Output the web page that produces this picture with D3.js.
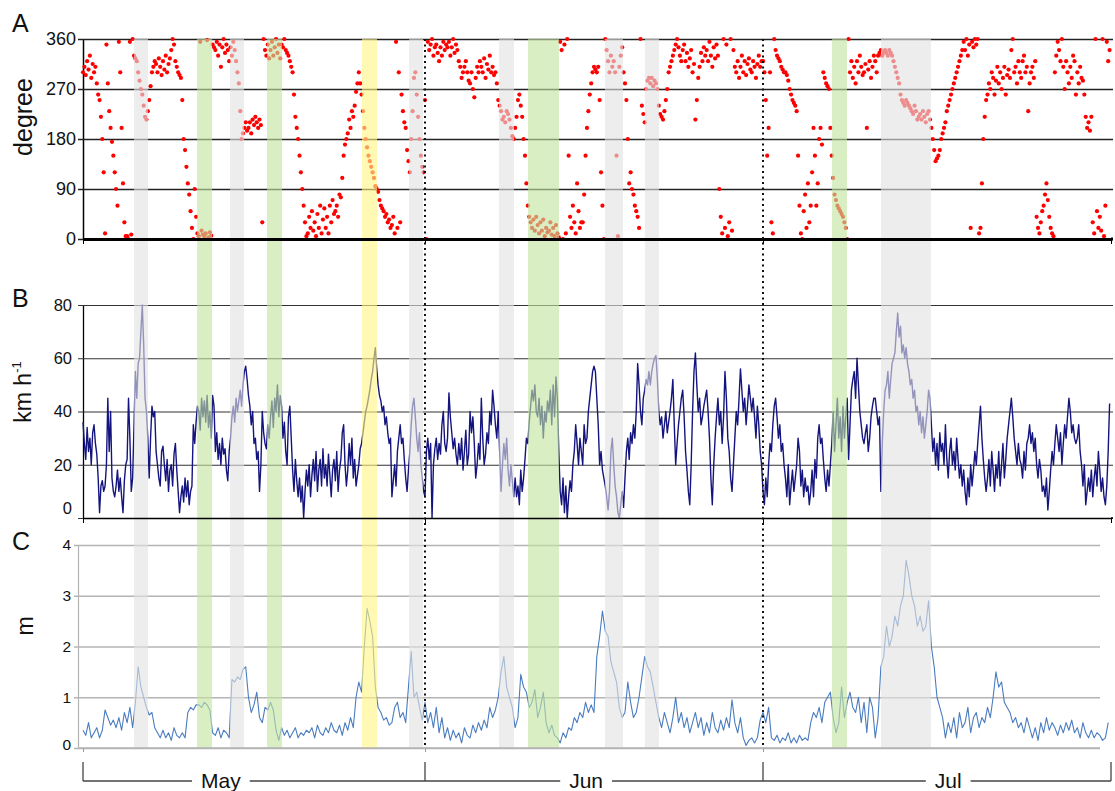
<!DOCTYPE html>
<html>
<head>
<meta charset="utf-8">
<script src="https://cdn.jsdelivr.net/npm/d3@7"></script>
<style>
  body { margin: 0; background: #fff; }
  svg { font-family: "Liberation Sans", Arial, sans-serif; }
</style>
</head>
<body>
<svg width="1115" height="791"></svg>
<script>
// ---- Dados
const monthStarts = ['2010-05-01', '2010-06-01', '2010-07-01', '2010-08-01'];
const monthNames = ['May', 'Jun', 'Jul'];
const monthLabelDay = [12.5, 45.3, 77.5];   // dia (desde 1 May) onde fica o nome do mes
const dottedDates = ['2010-06-01', '2010-07-01'];

const dirTicks = [0, 90, 180, 270, 360];
const speedTicks = [0, 20, 40, 60, 80];
const waveTicks = [0, 1, 2, 3, 4];

// eventos destacados: inicio/fim em dias desde 1 May
const bandStart = [4.62, 10.34, 13.33, 16.68, 25.29, 29.56, 37.57, 40.14, 46.97, 50.52, 67.14, 71.51];
const bandEnd   = [5.89, 11.70, 14.60, 18.04, 26.65, 30.82, 38.90, 42.89, 48.57, 51.77, 68.48, 75.96];
const bandKind  = ['gray', 'green', 'gray', 'green', 'yellow', 'gray', 'gray', 'green', 'gray', 'gray', 'green', 'gray'];

// direcao do vento (graus), de 3 em 3 horas
const windDir = [
  300,310,295,320,305,330,290,315, 300,310,280,260,250,220,180,120, 10,350,280,230,200,175,150,120,
  90,60,355,300,200,100,30,5, 5,0,355,8,360,330,325,320, 300,285,270,260,240,220,215,230,
  250,275,300,310,320,315,300,325, 310,295,320,305,330,300,315,325, 340,360,350,320,310,300,295,290,
  250,180,160,130,100,80,50,20, 0,90,40,10,5,355,15,8, 5,10,358,3,12,6,350,345,
  340,355,330,350,310,345,360,335, 350,340,320,345,330,355,340,320, 300,280,230,180,190,200,210,195,
  200,210,190,215,205,220,210,200, 215,205,30,360,340,330,350,325, 340,355,330,345,360,335,350,325,
  350,345,360,340,335,330,320,310, 300,260,220,200,180,150,120,90, 60,30,5,10,40,20,50,15,
  30,5,45,20,60,10,35,55, 20,40,10,60,30,70,45,50, 60,40,80,75,110,150,170,180,
  190,215,200,230,220,240,265,280, 300,280,260,230,200,180,165,150, 140,130,120,110,95,90,85,70,
  60,55,50,40,45,30,35,20, 25,40,10,355,20,300,30,260, 230,210,200,160,140,120,180,230,
  290,300,260,220,180,150,130,120, 250,0,355,340,350,360,330,345, 350,335,320,345,330,355,340,350,
  345,355,330,345,360,335,350,340, 320,310,290,300,310,320,300,285, 280,300,270,255,290,310,300,320,
  310,300,325,290,315,305,330,300, 310,295,300,280,250,240,230,215, 220,210,230,225,215,200,185,180,
  200,220,250,260,240,220,180,150, 100,60,40,30,20,35,15,40, 25,10,30,15,35,5,20,12,
  15,30,8,20,5,25,10,3, 355,340,0,350,10,360,150,40, 20,60,30,10,100,50,20,30,
  30,80,150,200,230,260,280,300, 310,305,300,310,250,120,60,0, 360,340,320,300,330,310,320,300,
  150,5,310,330,345,300,280,250, 180,100,120,90,80,60,50,40, 20,360,240,225,210,270,285,290,
  280,290,275,285,280,270,240,225, 220,215,230,250,270,300,310,320, 330,340,350,360,345,330,320,340,
  350,320,335,310,325,340,300,315, 215,250,290,310,335,320,345,330, 340,320,355,330,310,345,325,350,
  330,90,40,10,360,20,350,5, 30,360,15,340,310,300,320,290, 310,330,300,320,295,315,325,305,
  300,320,310,290,315,330,310,320, 320,300,250,150,200,300,30,10, 360,340,330,325,320,310,305,300,
  300,295,285,270,260,250,245,240, 230,150,60,10,0,50,80,20, 100,30,60,120,200,150,60,100,
  180,200,170,300,290,280,275,270, 200,150,110,80,70,60,55,50, 45,40,30,20,0,360,300,320,
  290,310,280,320,300,330,310,295, 300,315,200,305,320,290,310,330, 320,300,330,335,340,330,335,340,
  335,330,340,335,330,320,310,300, 290,280,260,250,245,240,250,245, 240,235,230,225,240,230,215,220,
  225,215,230,220,210,225,230,215, 200,180,160,140,145,150,160,180, 190,200,210,230,240,250,260,270,
  280,290,300,310,320,330,340,355, 340,360,330,350,20,355,345,360, 350,360,10,20,100,180,220,250,
  260,280,270,300,290,260,285,310, 280,300,270,290,310,260,295,305, 290,340,360,300,310,280,320,300,
  290,320,330,300,310,230,280,300, 310,290,320,40,20,10,30,50, 60,80,100,70,40,20,10,5,
  300,330,355,340,320,360,310,270, 320,300,280,310,290,330,320,260, 300,280,310,290,285,260,220,200,
  210,195,220,30,10,360,50,20, 40,15,360,5,60,355,320,340
];

// velocidade do vento (km/h), de 3 em 3 horas
const windSpeed = [
  36,28,22,34,25,30,20,32, 35,28,24,15,2,12,14,10, 12,20,45,25,40,15,10,8,
  12,18,10,15,8,2,14,20, 22,45,30,10,15,35,55,45, 58,60,70,80,65,45,40,30,
  15,30,42,38,40,25,20,15, 12,25,27,20,14,22,10,18, 20,12,24,28,18,10,2,8,
  12,6,15,8,14,5,10,12, 35,28,36,42,40,33,45,38, 44,36,46,34,40,30,46,42,
  25,32,22,28,20,30,24,26, 18,14,25,30,38,42,36,45, 40,44,48,42,50,55,57,52,
  46,42,35,40,28,30,22,25, 10,20,40,32,28,26,35,30, 38,44,34,45,40,50,38,46,
  42,30,36,25,20,38,42,30, 18,10,22,14,8,15,6,12, 0,10,18,12,20,8,16,22,
  14,25,10,18,22,12,26,15, 20,12,24,16,8,18,22,14, 25,10,18,22,32,35,20,12,
  18,28,20,30,15,22,12,16, 20,26,28,32,36,40,42,45, 48,52,55,60,64,56,50,46,
  44,40,42,35,38,32,28,30, 8,14,20,12,25,30,35,28, 30,22,15,10,18,25,35,42,
  45,38,30,25,32,20,15,10, 8,25,30,22,28,0,20,26, 30,22,28,24,35,40,28,25,
  30,47,38,32,26,30,24,20, 28,22,30,18,25,33,20,24, 40,32,38,28,15,20,28,22,
  45,30,20,24,32,28,40,35, 48,42,35,30,40,25,10,20, 28,22,30,18,12,20,14,8,
  15,8,12,5,18,10,15,22, 30,28,36,42,48,44,50,40, 38,45,35,42,30,40,36,44,
  40,48,35,50,38,53,45,25, 10,5,15,2,12,0,8,14, 10,20,25,35,28,20,30,25,
  20,35,28,30,40,45,50,55, 57,55,45,35,20,25,18,15, 12,8,3,10,25,30,20,12,
  8,2,0,5,10,4,15,25, 30,22,32,28,35,30,40,58, 50,40,35,45,48,52,50,55,
  50,55,58,60,61,52,40,35, 38,30,35,40,32,36,40,45, 52,35,20,28,35,40,45,48,
  38,25,18,10,5,20,40,55, 62,50,40,45,35,38,42,45, 48,40,30,15,5,20,30,38,
  45,35,40,28,38,55,45,30, 25,15,10,20,30,40,35,45, 56,48,40,45,35,42,50,45,
  40,45,38,30,42,35,25,20, 10,5,15,8,20,28,25,35, 42,45,38,30,35,25,28,20,
  15,8,20,5,12,18,10,15, 20,30,25,12,18,8,15,10, 12,5,10,18,8,22,15,30,
  35,28,30,22,15,10,18,12, 20,28,40,25,35,45,30,38, 25,42,30,38,45,22,35,48,
  52,55,45,60,50,40,35,30, 28,32,35,25,30,38,42,45, 45,40,35,38,10,28,40,48,
  50,55,45,52,58,60,62,70, 77,68,72,62,65,60,64,58, 55,50,52,45,48,40,42,35,
  40,32,38,30,35,40,48,45, 35,25,30,20,28,18,32,25, 28,20,35,22,15,25,30,20,
  25,18,30,22,15,20,12,18, 10,5,15,8,20,12,18,25, 20,28,35,42,30,22,15,10,
  15,22,12,25,18,10,20,15, 25,12,20,28,15,22,30,35, 40,45,38,30,25,20,28,22,
  20,15,25,18,28,30,35,28, 32,25,30,20,15,22,18,10, 12,8,15,3,10,18,25,20,
  28,35,30,25,32,20,28,35, 30,38,45,40,32,35,30,28, 30,35,25,20,12,20,5,10,
  15,10,18,8,15,20,12,25, 18,10,15,8,5,12,25,43
];

// altura de onda (m), de 6 em 6 horas
const waveHeight = [
  0.35,0.25,0.5,0.2, 0.3,0.4,0.2,0.35, 0.75,0.6,0.45,0.55, 0.4,0.6,0.35,0.7, 0.5,0.8,0.4,0.9,
  1.6,1.2,1.0,0.8, 0.65,0.7,0.4,0.3, 0.2,0.35,0.2,0.3, 0.15,0.4,0.25,0.2, 0.3,0.2,0.7,0.8,
  0.75,0.85,0.85,0.8, 0.9,0.85,0.75,0.3, 0.25,0.4,0.2,0.35, 0.3,0.2,1.35,1.3, 1.4,1.35,1.55,1.6,
  1.0,0.7,0.85,1.1, 0.6,0.5,0.8,0.75, 0.9,0.75,0.35,0.15, 0.4,0.25,0.35,0.2, 0.3,0.4,0.2,0.3,
  0.25,0.35,0.3,0.4, 0.2,0.45,0.3,0.25, 0.4,0.3,0.5,0.35, 0.3,0.45,0.25,0.5, 0.35,0.6,0.4,1.0,
  1.3,1.1,2.0,2.75, 2.5,2.2,1.2,0.8, 0.7,0.55,0.6,0.45, 0.5,0.8,0.9,0.6, 0.7,0.5,1.2,1.9,
  1.0,1.1,0.8,0.55, 0.9,0.5,0.7,0.4, 0.8,0.3,0.6,0.2, 0.4,0.15,0.35,0.2, 0.3,0.1,0.4,0.25,
  0.2,0.45,0.3,0.5, 0.35,0.55,0.4,0.8, 0.6,0.75,1.0,1.5, 1.8,1.2,1.0,0.8, 0.4,0.6,1.45,1.2,
  1.1,0.8,0.9,1.15, 0.6,0.8,1.1,0.5, 0.3,0.45,0.25,0.2, 0.1,0.3,0.2,0.4, 0.35,0.6,0.5,0.7,
  0.6,0.9,0.7,0.85, 0.7,1.8,2.2,2.7, 2.3,2.2,1.7,1.5, 1.3,0.8,0.6,0.7, 1.3,0.9,0.6,0.7,
  1.0,1.4,1.8,1.6, 1.5,1.2,0.9,0.6, 0.4,0.7,0.5,0.3, 0.6,1.0,0.5,0.7, 0.4,0.6,0.3,0.5,
  0.7,0.4,0.6,0.25, 0.5,0.3,0.7,0.4, 0.3,0.55,0.35,0.6, 0.4,0.95,0.5,0.3, 0.6,0.2,0.05,0.15,
  0.2,0.1,0.2,0.55, 0.7,0.5,0.8,0.2, 0.15,0.25,0.1,0.2, 0.15,0.3,0.1,0.2, 0.1,0.25,0.15,0.2,
  0.15,0.5,0.7,0.6, 0.8,0.5,0.9,1.0, 1.1,0.6,0.3,0.5, 1.2,0.6,0.9,1.1, 0.8,0.7,1.0,0.5,
  0.9,0.3,1.0,0.8, 0.2,0.6,1.6,1.8, 2.4,2.0,2.2,2.6, 2.4,2.8,3.0,3.7, 3.4,3.0,2.8,2.4,
  2.6,2.3,2.4,2.9, 2.0,1.6,1.0,0.8, 0.6,0.2,0.5,0.3, 0.6,0.2,0.7,0.4, 0.5,0.8,0.3,0.6,
  0.7,0.4,0.6,0.5, 0.8,0.6,1.0,1.5, 1.2,1.3,0.9,0.8, 0.7,0.5,0.6,0.4, 0.5,0.3,0.6,0.4,
  0.2,0.4,0.15,0.5, 0.3,0.6,0.35,0.5, 0.4,0.25,0.45,0.3, 0.5,0.35,0.55,0.3, 0.4,0.2,0.5,0.3,
  0.2,0.35,0.2,0.3, 0.25,0.15,0.2,0.5
];

const bandColors = { gray: '#e2e2e2', green: '#c4e3a0', yellow: '#fff585' };

// ---- Escalas
const parseDate = d3.timeParse('%Y-%m-%d');
const startDate = parseDate(monthStarts[0]);
const dayToDate = d => new Date(startDate.getTime() + d * 864e5);
const t3 = i => d3.timeHour.offset(startDate, i * 3);
const t6 = i => d3.timeHour.offset(startDate, i * 6);

const svg = d3.select('svg');

const mapX = d3.scaleTime()
    .domain(monthStarts.map(parseDate))
    .range([83, 425, 763, 1111]);

const mapA = d3.scaleLinear().domain([0, 360]).range([239, 39]);
const mapB = d3.scaleLinear().domain([0, 80]).range([518, 305]);
const mapC = d3.scaleLinear().domain([0, 4]).range([748, 545]);

const leftAB = 83, rightAB = 1113;
const leftC = 78, rightC = 1100;

// ---- Grades e eixos Y (com pequeno traco para fora)
const gridA = svg.append('g')
    .attr('transform', `translate(${leftAB},0)`)
    .call(d3.axisLeft(mapA).tickValues(dirTicks).tickSizeInner(-(rightAB - leftAB)).tickSizeOuter(0).tickPadding(7));
gridA.selectAll('.tick line').attr('x1', -5).attr('stroke', '#222').attr('stroke-width', 1.5);
gridA.select('.domain').attr('stroke', '#000').attr('stroke-width', 1.5);
gridA.selectAll('.tick text').attr('font-size', 18).attr('fill', '#111');

const gridB = svg.append('g')
    .attr('transform', `translate(${leftAB},0)`)
    .call(d3.axisLeft(mapB).tickValues(speedTicks).tickSizeInner(-(rightAB - leftAB)).tickSizeOuter(0).tickPadding(11));
gridB.selectAll('.tick line').attr('x1', -5).attr('stroke', '#333').attr('stroke-width', 1.1);
gridB.select('.domain').attr('stroke', '#000').attr('stroke-width', 1.3);
gridB.selectAll('.tick text').attr('font-size', 16.5).attr('fill', '#111');
gridB.selectAll('.tick').filter(d => d === 0).select('text').attr('dy', '-0.25em');

const gridC = svg.append('g')
    .attr('transform', `translate(${leftC},0)`)
    .call(d3.axisLeft(mapC).tickValues(waveTicks).tickFormat(d3.format('d'))
        .tickSizeInner(-(rightC - leftC)).tickSizeOuter(0).tickPadding(7));
gridC.selectAll('.tick line').attr('x1', -4).attr('stroke', '#b4b4b4').attr('stroke-width', 1.4);
gridC.select('.domain').attr('stroke', '#b4b4b4').attr('stroke-width', 1.2);
gridC.selectAll('.tick text').attr('font-size', 15.5).attr('fill', '#111');
gridC.selectAll('.tick').filter(d => d === 0).select('text').attr('dy', '0.1em');

// ---- Dados
svg.append('g')
    .selectAll('circle')
    .data(windDir)
    .join('circle')
    .attr('cx', (d, i) => mapX(t3(i)))
    .attr('cy', d => mapA(d))
    .attr('r', 2.1)
    .attr('fill', '#ff0000');

const speedLine = d3.line()
    .x((d, i) => mapX(t3(i)))
    .y(d => mapB(d));

svg.append('path')
    .datum(windSpeed)
    .attr('d', speedLine)
    .attr('fill', 'none')
    .attr('stroke', '#14147e')
    .attr('stroke-width', 1.4)
    .attr('stroke-linejoin', 'round');

const waveLine = d3.line()
    .x((d, i) => mapX(t6(i)))
    .y(d => mapC(d));

svg.append('path')
    .datum(waveHeight)
    .attr('d', waveLine)
    .attr('fill', 'none')
    .attr('stroke', '#4a7cc0')
    .attr('stroke-width', 1.1)
    .attr('stroke-linejoin', 'round');

// ---- Faixas de eventos (por cima, semi-transparentes)
svg.append('g')
    .selectAll('rect')
    .data(bandStart)
    .join('rect')
    .attr('x', d => mapX(dayToDate(d)))
    .attr('width', (d, i) => mapX(dayToDate(bandEnd[i])) - mapX(dayToDate(d)))
    .attr('y', 39)
    .attr('height', 748 - 39)
    .attr('fill', (d, i) => bandColors[bandKind[i]])
    .attr('fill-opacity', 0.62);

// ---- Eixos X
const monthDates = monthStarts.map(parseDate);

const axisA = svg.append('g')
    .attr('transform', 'translate(0,239)')
    .call(d3.axisBottom(mapX).tickValues(monthDates).tickSize(5).tickSizeOuter(0).tickFormat(''));
axisA.select('.domain').attr('stroke', '#000').attr('stroke-width', 3);
axisA.append('line').attr('x1', 1111).attr('x2', rightAB).attr('stroke', '#000').attr('stroke-width', 3);

const axisB = svg.append('g')
    .attr('transform', 'translate(0,518)')
    .call(d3.axisBottom(mapX).tickValues(monthDates).tickSize(5).tickSizeOuter(0).tickFormat(''));
axisB.select('.domain').attr('stroke', '#000').attr('stroke-width', 1.6);
axisB.append('line').attr('x1', 1111).attr('x2', rightAB).attr('stroke', '#000').attr('stroke-width', 1.6);

const axisC = svg.append('g')
    .attr('transform', 'translate(0,748)')
    .call(d3.axisBottom(mapX).tickValues(monthDates.slice(0, 3)).tickSize(4).tickSizeOuter(0).tickFormat(''));
axisC.select('.domain').remove();
axisC.selectAll('.tick line').attr('stroke', '#999');
axisC.append('line').attr('x1', leftC).attr('x2', rightC).attr('stroke', '#b4b4b4').attr('stroke-width', 1.4);

// ---- Linhas pontilhadas (inicio de mes)
svg.append('g')
    .selectAll('line')
    .data(dottedDates.map(parseDate))
    .join('line')
    .attr('x1', d => mapX(d))
    .attr('x2', d => mapX(d))
    .attr('y1', 39)
    .attr('y2', 745)
    .attr('stroke', '#111')
    .attr('stroke-width', 2)
    .attr('stroke-dasharray', '2,3.5');

// ---- Rotulos
svg.append('g')
    .selectAll('text')
    .data([['A', 32], ['B', 307], ['C', 550]])
    .join('text')
    .attr('x', 12)
    .attr('y', d => d[1])
    .attr('font-size', 25)
    .attr('fill', '#111')
    .text(d => d[0]);

svg.append('text')
    .attr('transform', 'translate(32,117) rotate(-90)')
    .attr('text-anchor', 'middle')
    .attr('font-size', 25)
    .attr('fill', '#111')
    .text('degree');

const kmh = svg.append('text')
    .attr('transform', 'translate(31,392) rotate(-90)')
    .attr('text-anchor', 'middle')
    .attr('font-size', 23)
    .attr('fill', '#111');
kmh.append('tspan').text('km h');
kmh.append('tspan').attr('font-size', 13).attr('dy', -10).text('-1');

svg.append('text')
    .attr('transform', 'translate(33,626) rotate(-90)')
    .attr('text-anchor', 'middle')
    .attr('font-size', 23)
    .attr('fill', '#111')
    .text('m');

// ---- Eixo de meses (colchetes)
const bracketY = 781, bracketTop = 762;
const bracket = svg.append('g').attr('stroke', '#444').attr('stroke-width', 1.3);

bracket.selectAll('line.tick')
    .data(monthDates)
    .join('line')
    .attr('class', 'tick')
    .attr('x1', d => mapX(d))
    .attr('x2', d => mapX(d))
    .attr('y1', bracketTop)
    .attr('y2', bracketY);

const labels = svg.append('g')
    .selectAll('text')
    .data(monthNames)
    .join('text')
    .attr('x', (d, i) => mapX(dayToDate(monthLabelDay[i])))
    .attr('y', 788)
    .attr('text-anchor', 'middle')
    .attr('font-size', 21)
    .attr('fill', '#111')
    .text(d => d);

const segs = [];
labels.each(function (d, i) {
    const len = this.getComputedTextLength();
    const cx = mapX(dayToDate(monthLabelDay[i]));
    segs.push([mapX(monthDates[i]), cx - len / 2 - 9]);
    segs.push([cx + len / 2 + 9, mapX(monthDates[i + 1])]);
});

bracket.selectAll('line.seg')
    .data(segs)
    .join('line')
    .attr('class', 'seg')
    .attr('x1', d => d[0])
    .attr('x2', d => d[1])
    .attr('y1', bracketY)
    .attr('y2', bracketY);
</script>
</body>
</html>
